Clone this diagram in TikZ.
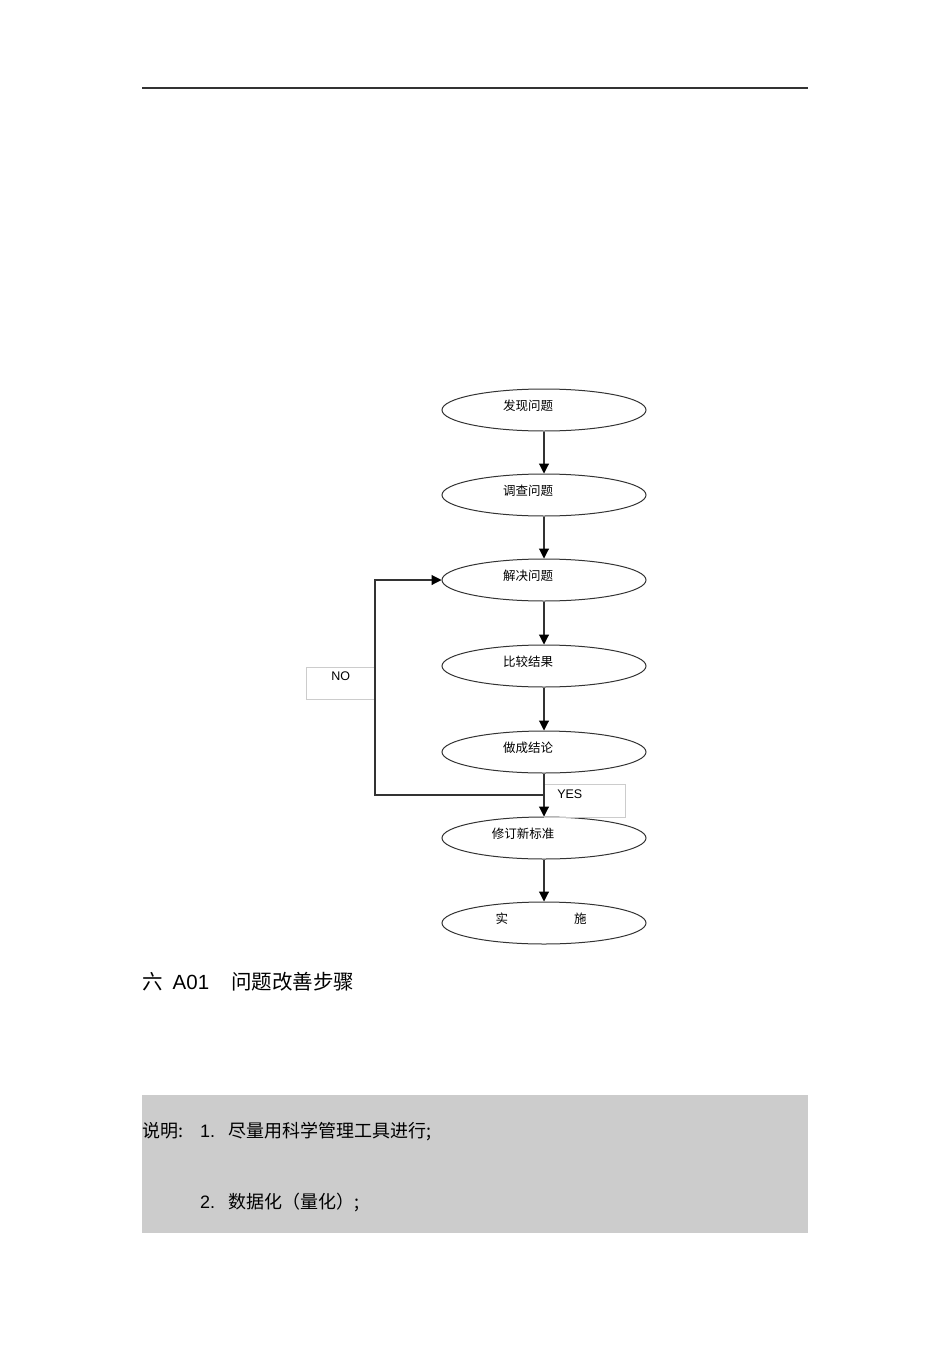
\documentclass[tikz,border=0pt]{standalone}
\usepackage{fontspec}
\setmainfont{Liberation Sans}
\newfontfamily\cjk{Noto Sans CJK SC}
\usetikzlibrary{shapes.geometric,arrows.meta}
\definecolor{linegray}{HTML}{333333}
\definecolor{boxgray}{HTML}{CCCCCC}
\tikzset{
  stage/.style={ellipse,draw=linegray,line width=1pt,minimum width=204pt,
    minimum height=42pt,inner sep=0pt,font=\cjk\fontsize{12.5}{14}\selectfont,
    text height=9pt,text depth=8pt},
  flow/.style={draw=linegray,line width=1.1pt,
    -{Triangle[length=10pt,width=10pt,color=black]}},
  tag/.style={draw=boxgray,line width=0.6pt,inner sep=0pt,
    font=\fontsize{12.5}{14}\selectfont,text height=9pt,text depth=14pt},
}
\begin{document}
\begin{tikzpicture}[x=1pt,y=-1pt]
\useasboundingbox (0,0) rectangle (950,1346);
\draw[linegray,line width=1.2pt] (142,88) -- (808,88);

\node[stage] (find) at (544,410) {发现问题\kern32pt};
\node[stage] (probe) at (544,495) {调查问题\kern32pt};
\node[stage] (solve) at (544,580) {解决问题\kern32pt};
\node[stage] (compare) at (544,666) {比较结果\kern32pt};
\node[stage] (conclude) at (544,752) {做成结论\kern32pt};
\node[stage] (revise) at (544,838) {修订新标准\kern42pt};
\node[stage] (apply) at (544,923) {实\kern66pt施\kern6pt};

% yes / no tags
\node[tag,minimum width=69pt,minimum height=32pt,anchor=north west]
  (no) at (306,667) {NO};
\node[tag,minimum width=81pt,minimum height=33pt,anchor=north west]
  (yes) at (544,784) {YES\kern30pt};

\draw[flow] (find) -- (probe);
\draw[flow] (probe) -- (solve);
\draw[flow] (solve) -- (compare);
\draw[flow] (compare) -- (conclude);
\draw[flow] (conclude) -- (revise);
\draw[flow] (revise) -- (apply);

\coordinate (split) at (544,795);
\coordinate (bend) at (375,795);
\draw[flow] (split) -- (bend) |- (solve.west);

\node[anchor=west,inner sep=0pt,font=\fontsize{20.5}{24}\selectfont] (caption)
  at (142,982) {{\cjk 六}\hspace{10pt}A01\hspace{22pt}{\cjk 问题改善步骤}};

\fill[boxgray] (142,1095) rectangle (808,1233);
\node[anchor=west,inner sep=0pt,font=\fontsize{18}{22}\selectfont] (note1)
  at (142,1132) {\makebox[58pt][l]{\cjk 说明:}1.\hspace{13pt}{\cjk 尽量用科学管理工具进行;}};
\node[anchor=west,inner sep=0pt,font=\fontsize{18}{22}\selectfont] (note2)
  at (200,1202) {2.\hspace{13pt}{\cjk 数据化（量化）;}};
\end{tikzpicture}
\end{document}
